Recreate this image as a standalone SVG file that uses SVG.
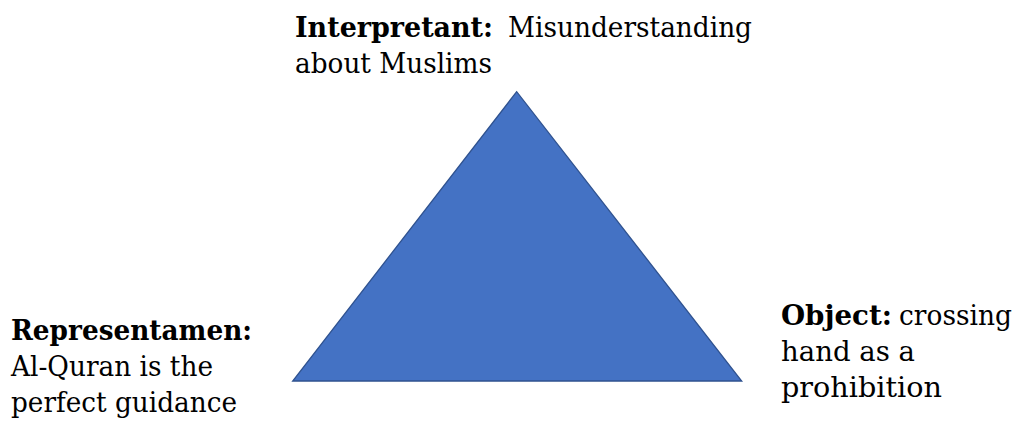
<svg xmlns="http://www.w3.org/2000/svg" width="1021" height="421" viewBox="0 0 1021 421">
<style>
text{font-family:"DejaVu Serif","Liberation Serif",serif;font-size:27px;fill:#000}
.b{font-weight:bold}
.tri{fill:#4472C4;stroke:#2F528F;stroke-width:1.3}
</style>
<rect width="1021" height="421" fill="#fff"/>
<g id="triangle">
<polygon class="tri" points="516.7,91.7 292.7,381 741.7,381"/>
</g>
<g id="connectors"></g>
<g id="interpretant">
<text x="295" y="37" class="b" textLength="198" lengthAdjust="spacingAndGlyphs">Interpretant:</text>
<text x="508" y="37" textLength="244" lengthAdjust="spacingAndGlyphs">Misunderstanding</text>
<text x="295" y="73" textLength="197" lengthAdjust="spacingAndGlyphs">about Muslims</text>
</g>
<g id="representamen">
<text x="11" y="340" class="b" textLength="241" lengthAdjust="spacingAndGlyphs">Representamen:</text>
<text x="11" y="376" textLength="202" lengthAdjust="spacingAndGlyphs">Al-Quran is the</text>
<text x="11" y="412" textLength="226" lengthAdjust="spacingAndGlyphs">perfect guidance</text>
</g>
<g id="object">
<text x="781" y="325" class="b" textLength="111" lengthAdjust="spacingAndGlyphs">Object:</text>
<text x="899" y="325" textLength="113" lengthAdjust="spacingAndGlyphs">crossing</text>
<text x="781" y="361" textLength="134" lengthAdjust="spacingAndGlyphs">hand as a</text>
<text x="781" y="397" textLength="161" lengthAdjust="spacingAndGlyphs">prohibition</text>
</g>
</svg>
